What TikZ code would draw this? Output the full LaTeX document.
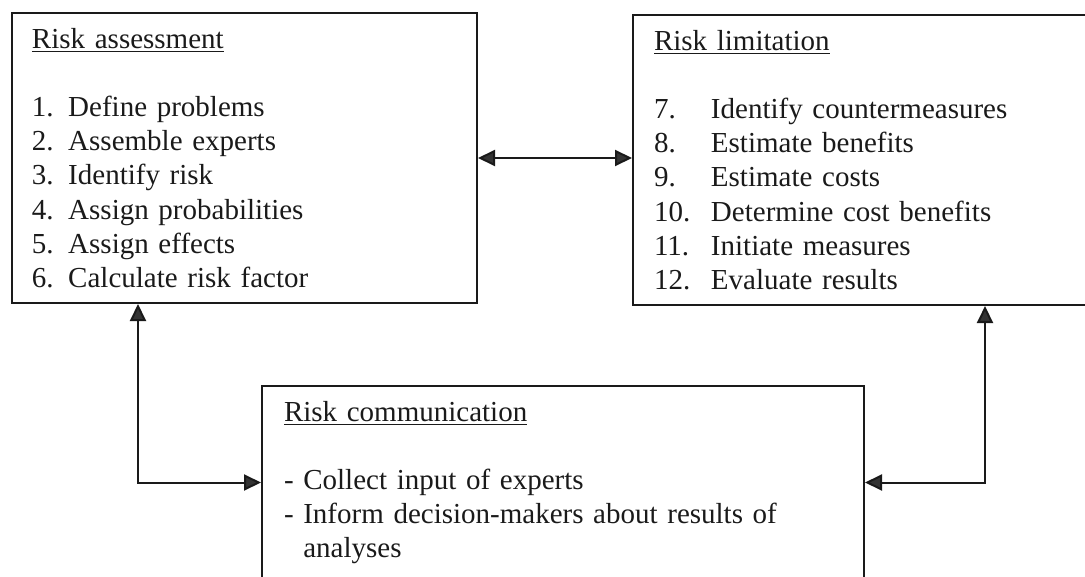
\documentclass[tikz,border=0pt]{standalone}
\usepackage{fontspec}
\setmainfont{Liberation Serif}
\usetikzlibrary{arrows.meta}
\definecolor{ink}{HTML}{1A1A1A}
\definecolor{tipgray}{HTML}{333333}
\tikzset{
  box/.style={draw=ink, line width=1pt, anchor=north west, align=left,
    inner xsep=10pt, inner ysep=0pt, text=ink,
    font=\fontsize{14.5}{17.1}\selectfont},
  link/.style={draw=ink, line width=1pt,
    {Triangle[length=8.5pt,width=8pt,fill=tipgray]}-{Triangle[length=8.5pt,width=8pt,fill=tipgray]}},
}
\newcommand{\limnum}[1]{\makebox[28.5pt][l]{#1}}
\begin{document}
\begin{tikzpicture}[x=0.5pt,y=-0.5pt]
 \useasboundingbox (0,0) rectangle (1085,577);
 \node[box, text width=212.5pt, minimum width=232.5pt, minimum height=145pt] (assess) at (11,12) {
  \underline{Risk assessment}\\[17.1pt]
  1. Define problems\\
  2. Assemble experts\\
  3. Identify risk\\
  4. Assign probabilities\\
  5. Assign effects\\
  6. Calculate risk factor
 };
 \node[box, inner xsep=10.5pt, text width=209pt, minimum width=230pt, minimum height=145pt] (limit) at (632,14) {
  \underline{Risk limitation}\\[17.1pt]
  \limnum{7.}Identify countermeasures\\
  \limnum{8.}Estimate benefits\\
  \limnum{9.}Estimate costs\\
  \limnum{10.}Determine cost benefits\\
  \limnum{11.}Initiate measures\\
  \limnum{12.}Evaluate results
 };
 \node[box, inner xsep=11pt, text width=279pt, minimum width=301pt, minimum height=96.5pt] (comm) at (261,385) {
  \underline{Risk communication}\\[17.1pt]
  - Collect input of experts\\
  - Inform decision-makers about results of\\
  \hphantom{- }analyses
 };
 \draw[link] (assess.east) -- (assess.east -| limit.west);
 \draw[link] ([xshift=63.5pt]assess.south west) |- (comm.west);
 \draw[link] ([xshift=176.5pt]limit.south west) |- (comm.east);
\end{tikzpicture}
\end{document}
